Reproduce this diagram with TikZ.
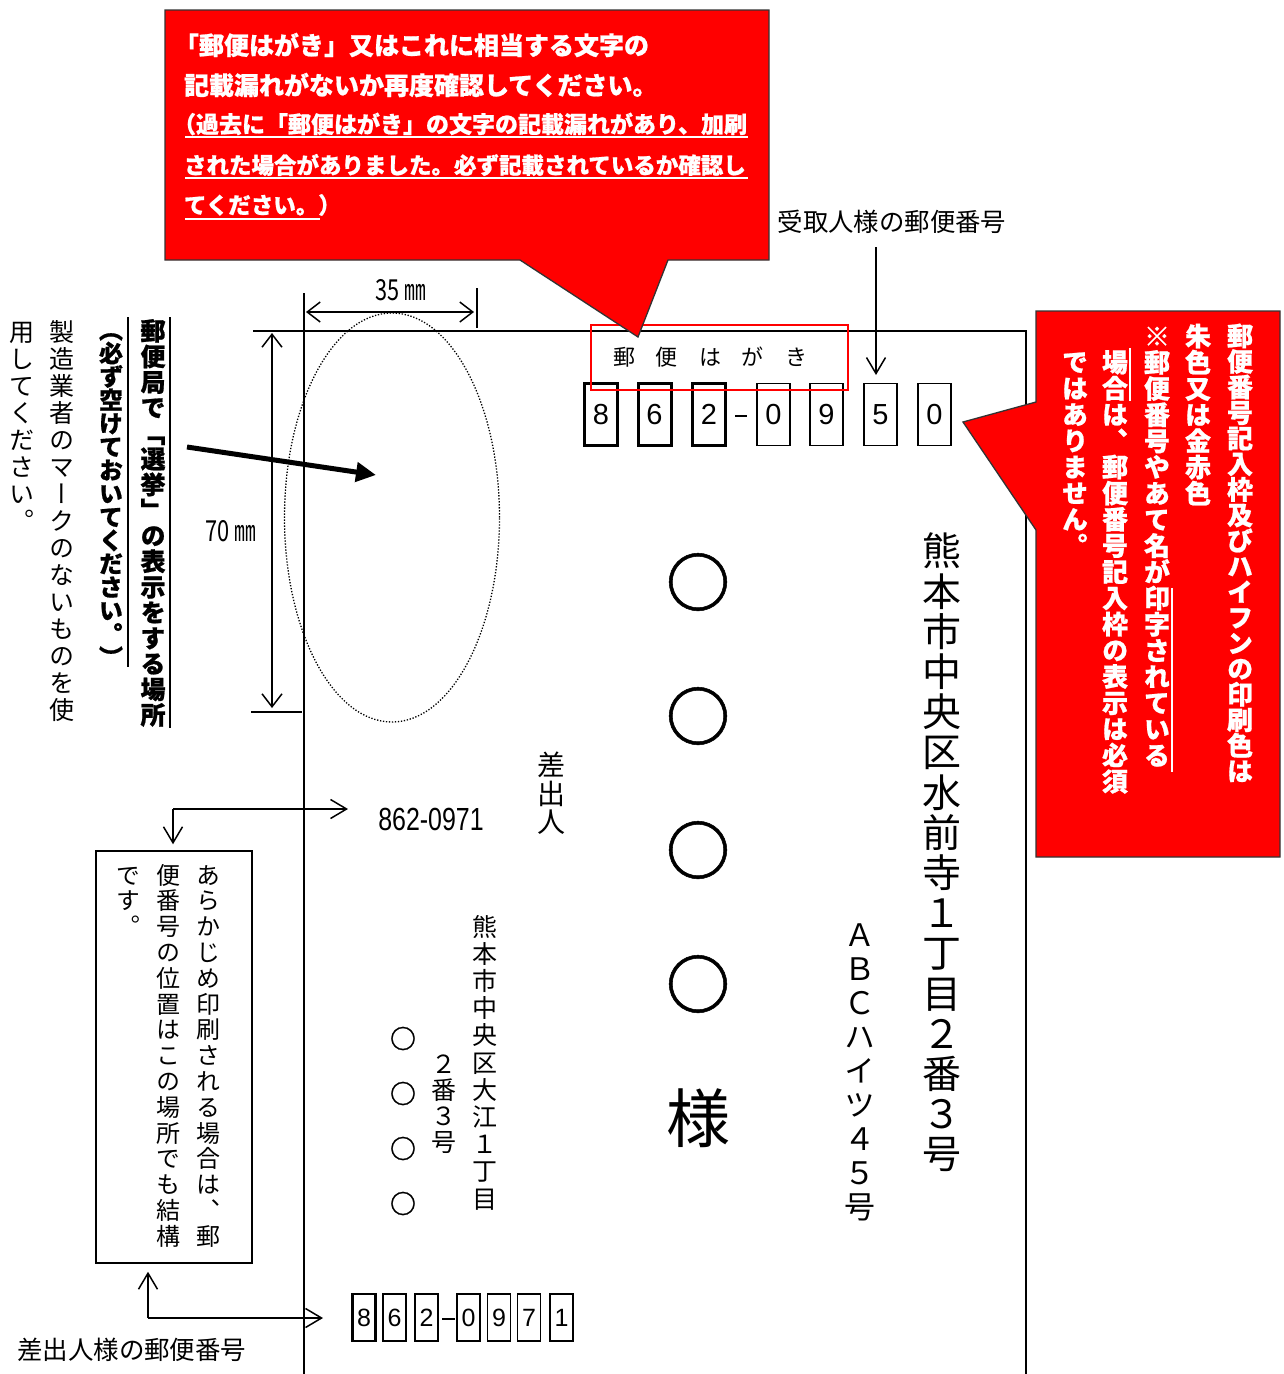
\documentclass[tikz,border=0pt]{standalone}
\usepackage{fontspec}
\usepackage{graphicx}
\usetikzlibrary{arrows.meta}
\newfontfamily\jp{Noto Sans CJK JP}[BoldFeatures={FakeBold=0.8}]
\newfontfamily\jpv{Noto Sans CJK JP}[RawFeature=+vert,BoldFeatures={FakeBold=0.8}]
\newfontfamily\ar{Liberation Sans}
\newcommand\fs[1]{\fontsize{#1}{#1}\selectfont}
\makeatletter
\newdimen\vtp
\newcommand\vstack[2]{\vtp=#1\relax\vbox{\offinterlineskip\vt@loop#2\vt@stop}}
\def\vt@stop{\vt@stop}
\def\vt@loop#1{\ifx#1\vt@stop\else\vt@char{#1}\expandafter\vt@loop\fi}
\def\vt@char#1{\hbox to\vtp{\hss\vrule height\dimexpr.5\vtp+.38em\relax depth\dimexpr.5\vtp-.38em\relax width0pt\relax#1\hss}}
\makeatother
\tikzset{
  vt/.style={inner sep=0pt, outer sep=0pt, anchor=north},
  ht/.style={inner sep=0pt, outer sep=0pt},
  card/.style={line width=1.7pt},
  callout/.style={fill=red, draw=black!80, line width=1.3pt, line join=miter},
  wline/.style={draw=white, line width=2pt},
  sline/.style={line width=1.8pt},
  barb/.style={line width=1.5pt, -{Straight Barb[length=16pt,width=19pt]}},
  dimarr/.style={line width=1.5pt, {Straight Barb[length=13pt,width=20pt]}-{Straight Barb[length=13pt,width=20pt]}},
  bigarrow/.style={line width=5pt, -{Triangle[length=20pt,width=19pt]}},
  pbox/.style={draw, inner sep=0pt, minimum width=33pt, minimum height=62pt, font=\ar\fs{29}},
  pthick/.style={pbox, line width=3pt},
  pthin/.style={pbox, line width=1.8pt},
  sbox/.style={draw, inner sep=0pt, minimum width=23pt, minimum height=47pt, font=\ar\fs{25}},
  sthick/.style={sbox, line width=2.6pt},
  sthin/.style={sbox, line width=1.5pt},
  wtext/.style={ht, anchor=west, text=white, font=\jp\bfseries\fs{25}},
  wtext2/.style={ht, anchor=west, text=white, font=\jp\bfseries\fs{23}},
  wcol/.style={vt, text=white, font=\jpv\bfseries\fs{26}},
}
\begin{document}
\begin{tikzpicture}[x=1pt,y=-1pt]
\useasboundingbox[fill=white] (0,0) rectangle (1283,1374);

% card outline and extension lines
\draw[card] (253,331) -- (1026,331) -- (1026,1374);
\draw[card] (304,293) -- (304,1374);
\draw[card] (251,712) -- (302,712);
\draw[line width=2.4pt] (477,288) -- (477,328);

% dimensions
\coordinate (da) at (306,312);
\coordinate (db) at (474,312);
\draw[dimarr] (da) -- (db);
\node[ht, font=\jp\fs{29}] (d35) at (401,290) {\scalebox{0.75}[1]{35 ㎜}};
\coordinate (dc) at (272,333);
\coordinate (dd) at (272,708);
\draw[dimarr] (dc) -- (dd);
\node[ht, font=\jp\fs{29}] (d70) at (231,531) {\scalebox{0.75}[1]{70 ㎜}};

% dotted ellipse
\draw[line width=1.3pt, dash pattern=on 1.3pt off 1.7pt] (392,517.5) ellipse [x radius=107.5pt, y radius=204.5pt];

% left vertical texts
\node[vt, font=\jpv\bfseries\fs{25}] (la) at (153,318) {\vstack{25.6pt}{郵便局で「選挙」の表示をする場所}};
\node[vt, font=\jpv\bfseries\fs{24}] (lb) at (111,318) {\vstack{23.4pt}{（必ず空けておいてください。）}};
\node[vt, font=\jpv\fs{25}] (lc) at (62,318) {\vstack{27pt}{製造業者のマークのないものを使}};
\node[vt, font=\jpv\fs{25}] (ld) at (22,318) {\vstack{27pt}{用してください。}};
\draw[sline] (170,317) -- (170,728);
\draw[sline] (128,317) -- (128,667);

% thick arrow
\coordinate (ta) at (187,447);
\coordinate (tb) at (376,475);
\draw[bigarrow] (ta) -- (tb);

% recipient postal boxes
\node[pthick] (rb1) at (601,414.5) {8};
\node[pthick] (rb2) at (654.5,414.5) {6};
\node[pthick] (rb3) at (709,414.5) {2};
\draw[line width=1.5pt] (735,416) -- (747,416);
\node[pthin] (rb4) at (773.5,414.5) {0};
\node[pthin] (rb5) at (826.5,414.5) {9};
\node[pthin] (rb6) at (880.5,414.5) {5};
\node[pthin] (rb7) at (934.5,414.5) {0};

% yuubin hagaki
\node[draw=red, line width=1.8pt, minimum width=257pt, minimum height=65pt, inner sep=0pt] (yh) at (719.5,357.5) {};
\node[ht, font=\jp\fs{22}] (yht) at (710,357) {郵\kern21pt 便\kern21pt は\kern21pt が\kern21pt き};

% recipient label and arrow
\node[ht, font=\jp\fs{25.4}] (rl) at (892,222) {受取人様の郵便番号};
\coordinate (ra) at (876,247);
\coordinate (rt) at (876,375);
\draw[barb] (ra) -- (rt);

% recipient address
\node[vt, font=\jpv\fs{39}] (addr1) at (942,531) {\vstack{40.2pt}{熊本市中央区水前寺１丁目２番３号}};
\node[vt, font=\jpv\fs{31}] (addr2) at (860,918) {\vstack{34pt}{ＡＢＣハイツ４５号}};
\node[vt, font=\jpv\bfseries\fs{64}] (name) at (698,515) {\vstack{134pt}{○○○○}};
\node[vt, font=\jpv\fs{64}] (sama) at (698,1051) {\vstack{134pt}{様}};

% sender
\node[vt, font=\jpv\fs{28}] (sd) at (551,751) {\vstack{28.5pt}{差出人}};
\node[ht, font=\ar\fs{32}] (z1) at (431,819) {\scalebox{0.78}[1]{862-0971}};
\node[vt, font=\jpv\fs{25}] (sa1) at (485,913) {\vstack{27.2pt}{熊本市中央区大江１丁目}};
\node[vt, font=\jpv\fs{25}] (sa2) at (444,1051) {\vstack{26pt}{２番３号}};
\node[vt, font=\jpv\bfseries\fs{26}] (sn) at (403,1011) {\vstack{55pt}{○○○○}};

% note box
\node[draw, line width=1.5pt, minimum width=156pt, minimum height=412pt, inner sep=0pt] (nb) at (174,1057) {};
\node[vt, font=\jpv\fs{24}] (n1) at (208,862) {\vstack{25.8pt}{あらかじめ印刷される場合は、郵}};
\node[vt, font=\jpv\fs{24}] (n2) at (168,862) {\vstack{25.8pt}{便番号の位置はこの場所でも結構}};
\node[vt, font=\jpv\fs{24}] (n3) at (128,862) {\vstack{25.8pt}{です。}};

% sender arrows
\coordinate (sj) at (173,809);
\coordinate (st) at (348,809);
\draw[barb] (sj) -- (st);
\draw[barb, shorten >=6pt] (sj) -- (sj |- nb.north);
\coordinate (bj) at (148,1318);
\coordinate (bt) at (323,1318);
\draw[barb] (bj) -- (bt);
\draw[barb, shorten >=8pt] (bj) -- (bj |- nb.south);

% sender postal boxes
\node[sthick] (sb1) at (364,1317.5) {8};
\node[sthick] (sb2) at (394.5,1317.5) {6};
\node[sthick] (sb3) at (426.5,1317.5) {2};
\draw[line width=1.5pt] (442,1319) -- (455,1319);
\node[sthin] (sb4) at (468.5,1317.5) {0};
\node[sthin] (sb5) at (499,1317.5) {9};
\node[sthin] (sb6) at (529,1317.5) {7};
\node[sthin] (sb7) at (561.5,1317.5) {1};

\node[ht, anchor=west, font=\jp\fs{25.5}] (sl) at (17,1350) {差出人様の郵便番号};

% top red callout
\path[callout] (165,10) -- (769,10) -- (769,260) -- (668,260) -- (638,337) -- (520,260) -- (165,260) -- cycle;
\node[wtext] (t1) at (174,45) {「郵便はがき」又はこれに相当する文字の};
\node[wtext] (t2) at (184,85) {記載漏れがないか再度確認してください。};
\node[wtext2] (t3) at (173,124) {（過去に「郵便はがき」の文字の記載漏れがあり、加刷};
\node[wtext2, font=\jp\bfseries\fs{22.5}] (t4) at (184,165) {された場合がありました。必ず記載されているか確認し};
\node[wtext2, font=\jp\bfseries\fs{22.5}] (t5) at (184,205) {てください。）};
\draw[wline] (185,137) -- (748,137);
\draw[wline] (185,178) -- (748,178);
\draw[wline] (185,219) -- (320,219);

% right red callout
\path[callout] (1036,311) -- (1280,311) -- (1280,857) -- (1036,857) -- (1036,530) -- (963,422) -- (1036,402) -- cycle;
\node[wcol] (c1) at (1240,323) {\vstack{25.6pt}{郵便番号記入枠及びハイフンの印刷色は}};
\node[wcol] (c2) at (1198,323) {\vstack{26.2pt}{朱色又は金赤色}};
\node[wcol] (c3) at (1157,323) {\vstack{26.2pt}{※郵便番号やあて名が印字されている}};
\node[wcol] (c4) at (1115,349) {\vstack{26.2pt}{場合は、郵便番号記入枠の表示は必須}};
\node[wcol] (c5) at (1075,349) {\vstack{26.2pt}{ではありません。}};
\draw[wline] (1172,588) -- (1172,772);
\draw[wline] (1130,348) -- (1130,401);
\end{tikzpicture}
\end{document}
